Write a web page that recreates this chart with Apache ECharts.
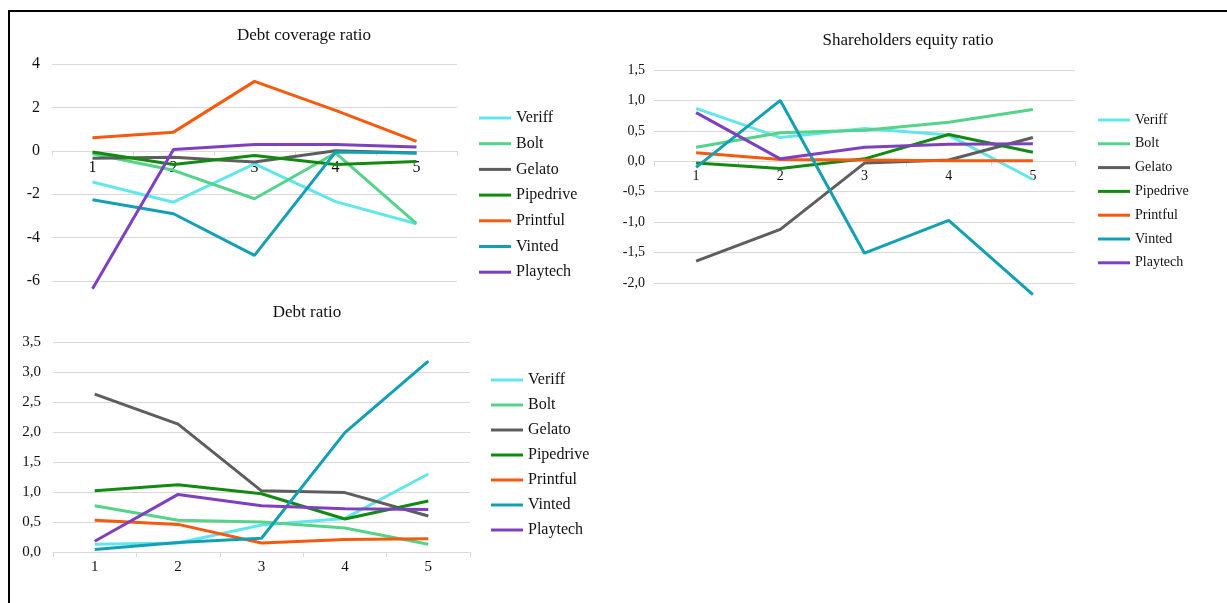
<!DOCTYPE html>
<html>
<head>
<meta charset="utf-8">
<script src="https://cdn.jsdelivr.net/npm/echarts@6/dist/echarts.min.js"></script>
<style>
  html, body { margin: 0; padding: 0; background: #fff; }
  #main { width: 1227px; height: 603px; }
  #frame { position: absolute; left: 8px; top: 10px; width: 1230px; height: 600px;
           border-top: 2px solid #000; border-left: 2px solid #000; pointer-events: none; }
</style>
</head>
<body>
<div id="main"></div>
<div id="frame"></div>
<script>
const periods = ['1', '2', '3', '4', '5'];
const companies = ['Veriff', 'Bolt', 'Gelato', 'Pipedrive', 'Printful', 'Vinted', 'Playtech'];
const companyColors = ['#62E6EC', '#55D38A', '#5E5E5E', '#128A12', '#F45A10', '#13A0B4', '#7F40C0'];

// one row per company, same order as companies
const debtCoverage = [
  [-1.44, -2.37, -0.6, -2.34, -3.36],   // Veriff
  [-0.14, -0.9, -2.21, -0.1, -3.36],    // Bolt
  [-0.34, -0.3, -0.52, 0.0, -0.1],      // Gelato
  [-0.06, -0.63, -0.22, -0.63, -0.49],  // Pipedrive
  [0.6, 0.86, 3.2, 1.86, 0.43],         // Printful
  [-2.26, -2.9, -4.82, -0.06, -0.1],    // Vinted
  [-6.36, 0.06, 0.29, 0.29, 0.17]       // Playtech
];
const equityRatio = [
  [0.87, 0.39, 0.54, 0.43, -0.3],
  [0.23, 0.47, 0.51, 0.64, 0.85],
  [-1.64, -1.12, -0.03, 0.02, 0.39],
  [-0.03, -0.12, 0.04, 0.44, 0.15],
  [0.14, 0.03, 0.02, 0.01, 0.01],
  [-0.1, 1.0, -1.51, -0.97, -2.19],
  [0.8, 0.04, 0.23, 0.28, 0.29]
];
const debtRatio = [
  [0.13, 0.15, 0.45, 0.56, 1.3],
  [0.77, 0.53, 0.5, 0.4, 0.13],
  [2.63, 2.13, 1.02, 0.99, 0.6],
  [1.02, 1.12, 0.97, 0.55, 0.85],
  [0.53, 0.46, 0.15, 0.21, 0.22],
  [0.04, 0.16, 0.23, 1.99, 3.18],
  [0.18, 0.96, 0.77, 0.72, 0.71]
];

const font = 'Liberation Serif, Times New Roman, serif';
const txt = '#111';
const gridLine = '#d9d9d9';

const comma = v => v.toFixed(1).replace('.', ',');

const grids = [
  { left: 52, top: 64, width: 405, height: 217 },
  { left: 654, top: 70, width: 421, height: 213 },
  { left: 53, top: 342, width: 417, height: 210 }
];
const yRanges = [[-6, 4, 2], [-2, 1.5, 0.5], [0, 3.5, 0.5]];

// v6 keeps labels at the grid edge with onZero, so shift the whole axis to the zero line instead
function xAxis(idx, fs, margin) {
  const r = yRanges[idx];
  const shift = -grids[idx].height * (0 - r[0]) / (r[1] - r[0]);
  return {
    type: 'category', gridIndex: idx, data: periods, boundaryGap: true,
    position: 'bottom', offset: shift,
    axisLine: { onZero: false, lineStyle: { color: gridLine, width: 1 } },
    axisTick: { show: true, length: 5, lineStyle: { color: gridLine } },
    axisLabel: { color: txt, fontFamily: font, fontSize: fs, margin: margin }
  };
}
function yAxis(idx, fs, fmt, margin) {
  const r = yRanges[idx];
  return {
    type: 'value', gridIndex: idx, min: r[0], max: r[1], interval: r[2],
    axisLine: { show: false }, axisTick: { show: false },
    splitLine: { lineStyle: { color: gridLine, width: 1 } },
    axisLabel: { color: txt, fontFamily: font, fontSize: fs, margin: margin, formatter: fmt }
  };
}
function legend(left, top, fs, gap) {
  return {
    orient: 'vertical', left: left, top: top, padding: 0,
    icon: 'rect', itemWidth: 32, itemHeight: 3, itemGap: gap,
    textStyle: { color: txt, fontFamily: font, fontSize: fs, lineHeight: fs },
    data: companies
  };
}
function title(text, x, y) {
  return {
    text: text, left: x, top: y, textAlign: 'center', padding: 0,
    textStyle: { color: txt, fontFamily: font, fontSize: 17, fontWeight: 'normal' }
  };
}

const series = [];
[debtCoverage, equityRatio, debtRatio].forEach((rows, g) => {
  rows.forEach((row, i) => {
    series.push({
      name: companies[i], type: 'line', xAxisIndex: g, yAxisIndex: g,
      data: row, symbol: 'none', clip: false,
      lineStyle: { width: 3, color: companyColors[i] },
      itemStyle: { color: companyColors[i] },
      emphasis: { disabled: true }
    });
  });
});

const chart = echarts.init(document.getElementById('main'));
chart.setOption({
  animation: false,
  backgroundColor: 'transparent',
  title: [
    title('Debt coverage ratio', 304, 27),
    title('Shareholders equity ratio', 908, 32),
    title('Debt ratio', 307, 304)
  ],
  legend: [
    legend(479, 110, 16, 9.7),
    legend(1098, 113, 14, 9.8),
    legend(491, 372, 16, 9)
  ],
  grid: grids,
  xAxis: [xAxis(0, 16, 9), xAxis(1, 14, 8), xAxis(2, 15, 8)],
  yAxis: [
    yAxis(0, 16, v => String(v), 12),
    yAxis(1, 14, comma, 9),
    yAxis(2, 15, comma, 12)
  ],
  series: series
});
</script>
</body>
</html>
